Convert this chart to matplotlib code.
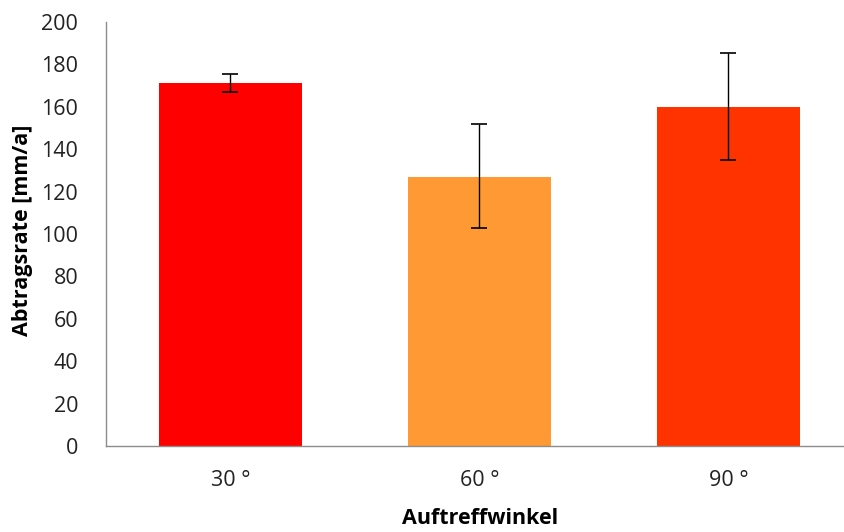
import matplotlib
matplotlib.use("Agg")
import matplotlib.pyplot as plt

categories = ["30 °", "60 °", "90 °"]
values = [171.3, 127.0, 160.0]
err_low = [4.5, 24.3, 25.0]
err_high = [4.2, 24.9, 25.4]
colors = ["#FF0000", "#FF9933", "#FF3300"]
yticks = [0, 20, 40, 60, 80, 100, 120, 140, 160, 180, 200]

plt.rcParams['font.family'] = ['Open Sans', 'DejaVu Sans']

fig = plt.figure(figsize=(8.44, 5.32), dpi=100)
W, H = 844, 532
left, right, top, bottom = 106, 853, 22, 446
ax = fig.add_axes([left / W, 1 - bottom / H, (right - left) / W, (bottom - top) / H])

x = list(range(len(categories)))
ax.bar(x, values, width=0.574, color=colors, zorder=2)
ax.errorbar(x, values, yerr=[err_low, err_high], fmt='none', ecolor='black',
            elinewidth=1.0, capsize=6, capthick=1.2, zorder=3)

ax.set_xlim(-0.5, 2.5)
ax.set_ylim(0, 200)
ax.set_yticks(yticks)
ax.set_xticks(x)
ax.set_xticklabels(categories)
ax.tick_params(axis='both', length=0, labelsize=15.5, colors='#222222')
ax.tick_params(axis='y', pad=20)
ax.tick_params(axis='x', pad=17)
for s in ['top', 'right']:
    ax.spines[s].set_visible(False)
for s in ['left', 'bottom']:
    ax.spines[s].set_color('#8c8c8c')
    ax.spines[s].set_linewidth(1.0)

ax.set_ylabel("Abtragsrate [mm/a]", fontsize=15.5, fontweight='bold')
ax.yaxis.set_label_coords(-(106 - 22) / (right - left), (446 - 230) / (bottom - top))
ax.yaxis.label.set_verticalalignment('center')
ax.set_xlabel("Auftreffwinkel", fontsize=15.5, fontweight='bold')
ax.xaxis.set_label_coords((480 - left) / (right - left), -(519 - bottom) / (bottom - top))
ax.xaxis.label.set_verticalalignment('center')

fig.savefig("out.png", dpi=100)
